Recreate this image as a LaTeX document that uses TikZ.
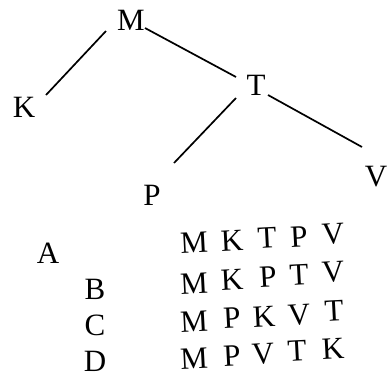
\documentclass[tikz,border=0pt]{standalone}
\usepackage{fontspec}
\setmainfont{Liberation Serif}
\begin{document}
\begin{tikzpicture}[x=1pt,y=1pt,
  lab/.style={inner sep=0pt,font=\fontsize{31}{32}\selectfont},
  rowlab/.style={lab,rotate=3},
  edge/.style={line width=1.7pt,black}]
\useasboundingbox (0,0) rectangle (387,-378);
% tree
\node[lab] (M) at (131,-20) {M};
\node[lab] (K) at (24,-107) {K};
\node[lab] (T) at (256,-85) {T};
\node[lab] (P) at (152,-195) {P};
\node[lab] (V) at (376,-177) {V};
\draw[edge] ([shift={(-25,-11)}]M.center) -- ([shift={(22,12)}]K.center);
\draw[edge] ([shift={(14,-8)}]M.center) -- ([shift={(-20,8)}]T.center);
\draw[edge] ([shift={(-20,-13)}]T.center) -- ([shift={(22,32)}]P.center);
\draw[edge] ([shift={(12,-10)}]T.center) -- ([shift={(-14,30)}]V.center);
% option letters
\node[lab] (oA) at (48,-253) {A};
\node[lab] (oB) at (95,-289) {B};
\node[lab] (oC) at (95,-325) {C};
\node[lab] (oD) at (95,-361) {D};
% row A
\node[rowlab] (a1) at (194,-243) {M};
\node[rowlab] (a2) at (232,-241) {K};
\node[rowlab] (a3) at (267,-238) {T};
\node[rowlab] (a4) at (299,-237) {P};
\node[rowlab] (a5) at (333,-234) {V};
% row B
\node[rowlab] (b1) at (194,-284) {M};
\node[rowlab] (b2) at (232,-280) {K};
\node[rowlab] (b3) at (268,-277) {P};
\node[rowlab] (b4) at (299,-275) {T};
\node[rowlab] (b5) at (333,-272) {V};
% row C
\node[rowlab] (c1) at (194,-322) {M};
\node[rowlab] (c2) at (232,-318) {P};
\node[rowlab] (c3) at (264,-317) {K};
\node[rowlab] (c4) at (299,-315) {V};
\node[rowlab] (c5) at (334,-311) {T};
% row D
\node[rowlab] (d1) at (194,-359) {M};
\node[rowlab] (d2) at (232,-356) {P};
\node[rowlab] (d3) at (263,-354) {V};
\node[rowlab] (d4) at (297,-351) {T};
\node[rowlab] (d5) at (333,-349) {K};
\end{tikzpicture}
\end{document}
